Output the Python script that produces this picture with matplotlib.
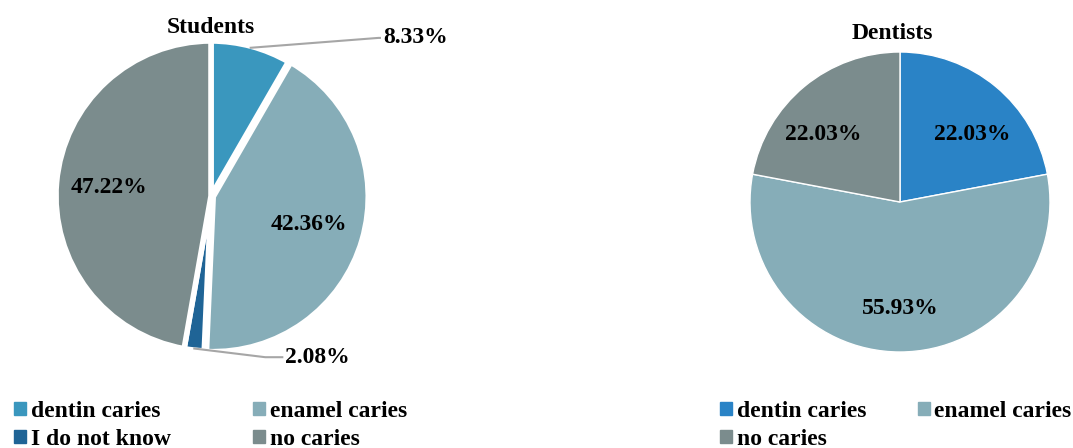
import numpy as np
import matplotlib
matplotlib.use("Agg")
import matplotlib.pyplot as plt
from matplotlib.patches import Patch

plt.rcParams['font.family'] = ['Liberation Serif', 'DejaVu Serif']
plt.rcParams['font.weight'] = 'bold'

# Students
stu_labels = ['dentin caries', 'enamel caries', 'I do not know', 'no caries']
stu_values = [8.33, 42.36, 2.08, 47.22]
stu_colors = ['#3A97BE', '#86ADB8', '#1F6496', '#7B8C8D']

# Dentists
den_labels = ['dentin caries', 'enamel caries', 'no caries']
den_values = [22.03, 55.93, 22.03]
den_colors = ['#2A83C6', '#86ADB8', '#7B8C8D']

W, H = 1073, 448
fig = plt.figure(figsize=(W / 100, H / 100), dpi=100)


def pie_axes(cx, cy, r):
    # axes box in pixels, so that one data unit == r pixels
    ax = fig.add_axes([(cx - r) / W, (H - cy - r) / H, 2 * r / W, 2 * r / H])
    return ax


def finish(ax):
    ax.set_xlim(-1, 1)
    ax.set_ylim(-1, 1)
    ax.set_aspect('equal')
    ax.axis('off')


FS = 17
LINE = '#A6A6A6'

# ---- Students pie
ax1 = pie_axes(211, 196, 155)
wedges, _ = ax1.pie(
    stu_values, colors=stu_colors, startangle=90, counterclock=False,
    explode=[0, 0.015, 0, 0],
    wedgeprops=dict(edgecolor='white', linewidth=4))
finish(ax1)
ax1.text(0, 1.09, 'Students', fontsize=FS, fontweight='bold',
         ha='center', va='center')

# labels inside the big slices
for i in (1, 3):
    w = wedges[i]
    mid = np.deg2rad((w.theta1 + w.theta2) / 2)
    ax1.text(0.66 * np.cos(mid), 0.66 * np.sin(mid), '%.2f%%' % stu_values[i],
             fontsize=FS, fontweight='bold', ha='center', va='center')

# leader labels for the small slices: (text x, text y, elbow x)
out_pos = {0: (1.11, 1.02, 1.08), 2: (0.48, -1.04, 0.35)}
for i, (tx, ty, kx) in out_pos.items():
    w = wedges[i]
    mid = np.deg2rad((w.theta1 + w.theta2) / 2)
    ex, ey = np.cos(mid) * 0.99, np.sin(mid) * 0.99
    ax1.plot([ex, kx, tx - 0.02], [ey, ty, ty], color=LINE, lw=1.5,
             clip_on=False)
    ax1.text(tx, ty, '%.2f%%' % stu_values[i], fontsize=FS,
             fontweight='bold', ha='left', va='center')

# ---- Dentists pie
ax2 = pie_axes(900, 202, 150)
wedges2, _ = ax2.pie(
    den_values, colors=den_colors, startangle=90, counterclock=False,
    wedgeprops=dict(edgecolor='white', linewidth=1))
finish(ax2)
ax2.text(-0.05, 1.12, 'Dentists', fontsize=FS, fontweight='bold',
         ha='center', va='center')
den_lab_pos = [(0.48, 0.45), (0.0, -0.71), (-0.51, 0.45)]
for v, (x, y) in zip(den_values, den_lab_pos):
    ax2.text(x, y, '%.2f%%' % v, fontsize=FS, fontweight='bold',
             ha='center', va='center')

# ---- legends (column-wise fill, so order them for rows)
common = dict(ncol=2, loc='upper left', frameon=False, fontsize=FS,
              handlelength=0.5, handleheight=0.5, handletextpad=0.2,
              labelspacing=0.3, borderpad=0, borderaxespad=0)

h1 = [Patch(color=c, label=l) for c, l in zip(stu_colors, stu_labels)]
fig.legend(handles=[h1[0], h1[2], h1[1], h1[3]],
           bbox_to_anchor=(14 / W, 1 - 401 / H), columnspacing=3.5, **common)

h2 = [Patch(color=c, label=l) for c, l in zip(den_colors, den_labels)]
fig.legend(handles=[h2[0], h2[2], h2[1]],
           bbox_to_anchor=(720 / W, 1 - 401 / H), columnspacing=2.2, **common)

fig.savefig('out.png', dpi=100)
